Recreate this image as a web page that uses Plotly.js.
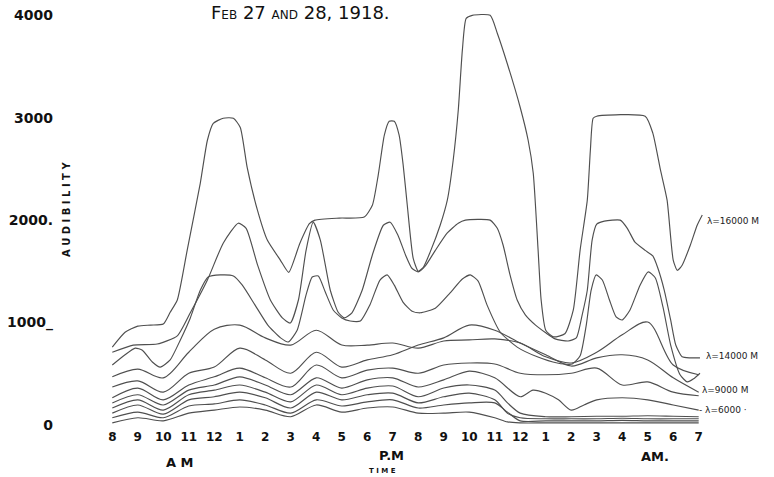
<!DOCTYPE html>
<html>
<head>
<meta charset="utf-8">
<script src="https://cdn.plot.ly/plotly-3.0.1.min.js"></script>
<style>
  html, body { margin: 0; padding: 0; background: #ffffff; }
  #chart { width: 774px; height: 477px; }
</style>
</head>
<body>
<div id="chart"></div>
<script>
// ---- Time axis (hours after 8 AM, Feb 27) ----
const hourTickPos = [0,1,2,3,4,5,6,7,8,9,10,11,12,13,14,15,16,17,18,19,20,21,22,23];
const hourTickText = ['8','9','10','11','12','1','2','3','4','5','6','7','8','9','10','11','12','1','2','3','4','5','6','7'];

// ---- Audibility axis ----
const audTickVals = [0, 1000, 2000, 3000, 4000];
const audTickText = ['0', '1000_', '2000.', '3000', '4000'];

// ---- Curves (hour position, audibility) ----
const l1Hours = [0,0.5,1,1.5,2,2.27,2.55,2.94,3.45,3.73,3.96,4.35,4.75,5.02,5.29,5.69,6.08,6.59,6.92,7.35,7.73,7.95,8.9,9.88,10.2,10.43,10.67,10.86,11.06,11.25,11.41,11.57,11.8,12.0,12.2,12.47,12.86,13.14,13.37,13.57,13.73,13.88,14.12,14.82,15.1,15.49,16.0,16.31,16.51,16.7,16.82,17.0,17.3,17.75,18.08,18.35,18.63,18.75,18.86,19.0,20.9,21.2,21.5,21.76,22.0,22.16,22.35,22.67,22.94,23.14];
const l1Values = [760,905,965,975,985,1100,1220,1710,2360,2780,2945,2995,2995,2905,2515,2100,1805,1610,1490,1770,1965,2000,2020,2030,2145,2440,2830,2965,2965,2830,2535,2145,1630,1500,1540,1690,1950,2195,2585,3075,3660,3970,4000,4000,3825,3530,3100,2780,2460,1710,1220,925,860,890,1120,1710,2195,2680,2995,3015,3015,2850,2490,2195,1610,1510,1560,1755,1950,2050];

const l2Hours = [0,0.82,1.76,2.55,3.06,3.73,4.35,4.94,5.25,5.7,6.2,6.67,6.98,7.3,7.6,7.88,8.16,8.55,8.86,9.1,9.4,9.8,10.2,10.63,10.9,11.2,11.5,11.75,12.0,12.27,12.67,13.14,13.57,13.85,14.82,15.1,15.33,15.6,15.88,16.2,16.6,17.0,17.37,17.88,18.2,18.43,18.63,18.82,19.0,19.3,19.92,20.2,20.5,20.9,21.2,21.4,21.65,21.9,22.1,22.35,22.67,23.05];
const l2Values = [710,780,790,870,1095,1415,1775,1970,1920,1560,1220,1045,995,1220,1705,1980,1805,1315,1100,1045,1095,1315,1660,1950,1980,1855,1660,1530,1495,1550,1705,1875,1970,2000,2000,1920,1755,1465,1220,1075,975,900,840,820,850,1075,1315,1805,1960,1990,2000,1920,1785,1705,1650,1530,1315,1025,780,665,655,655];

const l3Hours = [0,0.5,0.9,1.18,1.57,1.88,2.27,2.67,3.06,3.45,3.76,4.24,4.75,5.1,5.6,6.1,6.6,6.9,7.25,7.6,7.84,8.08,8.35,8.67,9.0,9.33,9.73,10.1,10.5,10.78,11.06,11.4,11.76,12.08,12.67,13.25,13.73,14.04,14.35,14.7,15.22,15.88,16.67,17.45,18.04,18.35,18.59,18.78,18.98,19.22,19.5,19.76,20.0,20.3,20.7,21.02,21.3,21.6,21.9,22.27,22.55,22.8,23.05];
const l3Values = [585,685,750,730,615,565,635,830,1045,1315,1445,1465,1455,1365,1170,975,850,810,925,1270,1445,1455,1300,1120,1045,1015,1015,1170,1415,1465,1365,1200,1110,1095,1140,1290,1425,1465,1405,1170,905,760,665,605,595,675,975,1315,1465,1415,1220,1055,1025,1120,1365,1495,1435,1150,780,490,420,450,505];

const hourly = [0,1,2,3,4,5,6,7,8,9,10,11,12,13,14,15,16,17,18,19,20,21,22,23];
const l4Values = [470,545,460,710,935,975,850,780,925,780,780,800,750,820,830,840,800,665,605,710,880,1005,585,490];
const l5Values = [370,430,320,505,565,750,635,505,710,565,635,685,780,850,975,925,800,685,575,655,685,635,460,320];
const l6Values = [265,360,245,390,470,555,460,370,585,460,535,555,505,585,605,595,505,490,505,555,390,420,320,285];

const l7Hours = [0,1,2,3,4,5,6,7,8,9,10,11,12,13,14,15,16,16.5,17,17.5,18,18.5,19,20,21,22,23];
const l7Values = [215,295,195,340,390,470,390,295,460,360,440,460,370,440,525,460,275,340,310,245,145,195,245,265,245,195,145];

const lowHours = [0,1,2,3,4,5,6,7,8,9,10,11,12,13,14,15,15.5,16,17,18,19,20,21,22,23];
const l8Values = [165,245,145,295,340,390,320,225,390,295,360,380,275,360,390,340,215,115,80,80,85,85,90,85,80];
const l9Values = [115,195,105,245,275,320,265,165,320,245,295,310,215,275,310,245,115,70,60,60,60,65,60,60,60];
const l10Values = [70,125,70,185,205,245,195,115,245,185,225,245,165,195,215,215,125,40,40,40,40,45,40,40,40];
const l11Values = [20,70,40,115,145,175,145,80,195,125,165,175,115,115,125,70,30,20,20,20,20,20,20,20,20];

const series = [
  [l1Hours, l1Values, 0.55],
  [l2Hours, l2Values, 0.55],
  [l3Hours, l3Values, 0.55],
  [hourly, l4Values, 0.9],
  [hourly, l5Values, 0.9],
  [hourly, l6Values, 0.9],
  [l7Hours, l7Values, 0.8],
  [lowHours, l8Values, 0.8],
  [lowHours, l9Values, 0.8],
  [lowHours, l10Values, 0.8],
  [lowHours, l11Values, 0.8]
];

const traces = series.map(function (s) {
  return {
    x: s[0], y: s[1], type: 'scatter', mode: 'lines',
    line: { color: '#4f4f4f', width: 1.15, shape: 'spline', smoothing: s[2] },
    hoverinfo: 'skip', showlegend: false
  };
});

const hand = 'DejaVu Sans, sans-serif';
const annotations = [
  { text: 'F<span style="font-size:12px">EB</span> 27 <span style="font-size:12px">AND</span> 28, 1918.',
    x: 7.4, y: 4030, xref: 'x', yref: 'y', showarrow: false,
    font: { family: hand, size: 18, color: '#111' } },
  { text: 'A M', x: 0.1345, y: -0.08, xref: 'paper', yref: 'paper', xanchor: 'center', yanchor: 'middle', showarrow: false,
    font: { family: hand, size: 13, color: '#111', weight: 'bold' } },
  { text: 'P.M', x: 0.478, y: -0.064, xref: 'paper', yref: 'paper', xanchor: 'center', yanchor: 'middle', showarrow: false,
    font: { family: hand, size: 13, color: '#111', weight: 'bold' } },
  { text: 'T I M E', x: 0.4635, y: -0.1, xref: 'paper', yref: 'paper', xanchor: 'center', yanchor: 'middle', showarrow: false,
    font: { family: hand, size: 7, color: '#111', weight: 'bold' } },
  { text: 'AM.', x: 0.904, y: -0.066, xref: 'paper', yref: 'paper', xanchor: 'center', yanchor: 'middle', showarrow: false,
    font: { family: hand, size: 13, color: '#111', weight: 'bold' } },
  { text: 'A U D I B I L I T Y', x: -0.0502, y: 0.5105, xref: 'paper', yref: 'paper', xanchor: 'center', yanchor: 'middle', showarrow: false,
    textangle: -90, font: { family: hand, size: 10, color: '#111', weight: 'bold' } },
  { text: 'λ=16000 M', x: 23.25, y: 1990, xref: 'x', yref: 'y', xanchor: 'left', showarrow: false,
    font: { family: hand, size: 9, color: '#222' } },
  { text: 'λ=14000 M', x: 23.2, y: 670, xref: 'x', yref: 'y', xanchor: 'left', showarrow: false,
    font: { family: hand, size: 9, color: '#222' } },
  { text: 'λ=9000 M', x: 23.05, y: 345, xref: 'x', yref: 'y', xanchor: 'left', showarrow: false,
    font: { family: hand, size: 9, color: '#222' } },
  { text: '- λ=6000 ·', x: 22.95, y: 150, xref: 'x', yref: 'y', xanchor: 'left', showarrow: false,
    font: { family: hand, size: 9, color: '#222' } }
];

const layout = {
  width: 774, height: 477,
  margin: { l: 97, r: 60, t: 1, b: 49 },
  paper_bgcolor: '#ffffff', plot_bgcolor: '#ffffff',
  showlegend: false,
  xaxis: {
    range: [-0.6, 23.6], showgrid: false, zeroline: false, showline: false,
    tickmode: 'array', tickvals: hourTickPos, ticktext: hourTickText,
    ticks: '', tickfont: { family: hand, size: 12, color: '#111', weight: 'bold' }
  },
  yaxis: {
    range: [-30, 4140], showgrid: false, zeroline: false, showline: false,
    tickmode: 'array', tickvals: audTickVals, ticktext: audTickText,
    ticks: '', ticklabelstandoff: 43,
    tickfont: { family: hand, size: 14, color: '#111', weight: 'bold' }
  },
  annotations: annotations
};

Plotly.newPlot('chart', traces, layout, { staticPlot: true, displayModeBar: false });
</script>
</body>
</html>
